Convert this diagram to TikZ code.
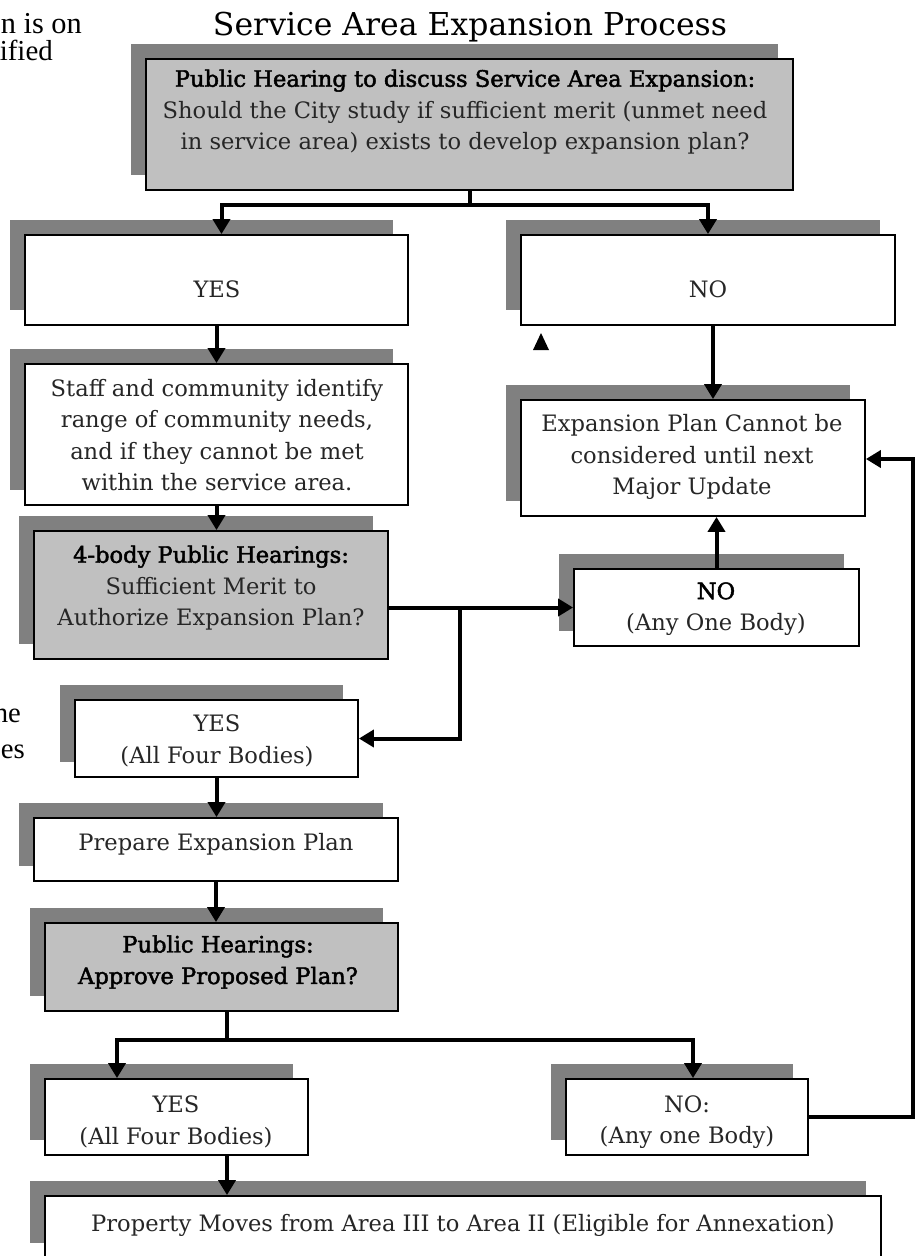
\documentclass[tikz,border=0pt]{standalone}
\usepackage{graphicx}
\usepackage{fontspec}
\setmainfont{DejaVu Serif}
\newfontfamily\fragfont{Liberation Serif}
\newfontfamily\boldface[FakeBold=2]{DejaVu Serif}
\usetikzlibrary{arrows.meta,shadows}
\definecolor{boxgray}{HTML}{C0C0C0}
\definecolor{shgray}{HTML}{808080}
\tikzset{
  box/.style={draw=black, line width=1.8pt, inner sep=0pt, rectangle,
    drop shadow={shadow xshift=-15pt, shadow yshift=15pt, opacity=1, fill=shgray}},
  wbox/.style={box, fill=white},
  gbox/.style={box, fill=boxgray},
  txt/.style={align=center, inner sep=0pt, text=black!85, font=\fontsize{22.6}{31.5}\selectfont},
  frag/.style={inner sep=0pt, anchor=base east, font=\fragfont\fontsize{29}{32}\selectfont},
  conn/.style={line width=4pt, draw=black},
  arr/.style={conn, -{Triangle[length=15pt,width=17pt]}}
}
\begin{document}
\begin{tikzpicture}[x=1pt,y=-1pt]
\useasboundingbox (0,0) rectangle (922,1256);
\clip (0,0) rectangle (922,1256);
\fill[white] (0,0) rectangle (922,1256);
% fragments of cut-off text
\node[frag] (f1) at (82,33) {\resizebox{81pt}{!}{n is on}};
\node[frag] (f2) at (53,60) {\resizebox{53pt}{!}{ified}};
\node[frag] (f3) at (21,722) {\resizebox{27pt}{!}{he}};
\node[frag] (f4) at (25,758) {\resizebox{24pt}{!}{es}};
% title
\node[inner sep=0pt, anchor=base, font=\fontsize{31.5}{34}\selectfont] (title) at (470,35) {Service Area Expansion Process};
% boxes
\node[gbox, minimum width=647, minimum height=131] (top) at (469.5,124.5) {};
\node[wbox, minimum width=383, minimum height=90] (yes1) at (216.5,280) {};
\node[wbox, minimum width=374, minimum height=90] (no1) at (708,280) {};
\node[wbox, minimum width=383, minimum height=141] (staff) at (216.5,434.5) {};
\node[wbox, minimum width=344, minimum height=116] (exp) at (693,458) {};
\node[gbox, minimum width=354, minimum height=128] (four) at (211,595) {};
\node[wbox, minimum width=285, minimum height=77] (noany) at (716.5,607.5) {};
\node[wbox, minimum width=283, minimum height=77] (yes2) at (216.5,738.5) {};
\node[wbox, minimum width=364, minimum height=63] (prep) at (216,849.5) {};
\node[gbox, minimum width=353, minimum height=88] (appr) at (221.5,967) {};
\node[wbox, minimum width=263, minimum height=76] (yes3) at (176.5,1117) {};
\node[wbox, minimum width=242, minimum height=76] (no3) at (687,1117) {};
\node[wbox, minimum width=836, minimum height=62] (final) at (463,1227) {};
% texts
\node[txt] (topT) at (465,112) {{\boldface\color{black}Public Hearing to discuss Service Area Expansion:}\\Should the City study if sufficient merit (unmet need\\in service area) exists to develop expansion plan?};
\node[txt] (yes1T) at (217,289) {YES};
\node[txt] (no1T) at (708,289) {NO};
\node[txt] (staffT) at (217,435) {Staff and community identify\\range of community needs,\\and if they cannot be met\\within the service area.};
\node[txt] (expT) at (692,457) {Expansion Plan Cannot be\\considered until next\\Major Update};
\node[txt] (fourT) at (211,588) {{\boldface\color{black}4-body Public Hearings:}\\Sufficient Merit to\\Authorize Expansion Plan?};
\node[txt] (noanyT) at (716,609) {{\boldface\color{black}NO}\\(Any One Body)};
\node[txt] (yes2T) at (217,741) {YES\\(All Four Bodies)};
\node[txt] (prepT) at (216,844) {Prepare Expansion Plan};
\node[txt, text=black] (apprT) at (218,962) {{\boldface Public Hearings:}\\{\boldface Approve Proposed Plan?}};
\node[txt] (yes3T) at (176,1122) {YES\\(All Four Bodies)};
\node[txt] (no3T) at (687,1122) {NO:\\(Any one Body)};
\node[txt] (finalT) at (463,1225) {Property Moves from Area III to Area II (Eligible for Annexation)};
% stray arrowhead
\fill[black] (533,350) -- (549,350) -- (541,333) -- cycle;
% junction coordinates
\coordinate (cNO) at (713,0);
\coordinate (br) at (460,608);
\coordinate (j2) at (227,1040);
\coordinate (rt) at (913,459);
% connectors
\draw[arr] (top.south) -- ++(0,14) coordinate (j1) -| ([xshift=5pt]yes1.north);
\draw[arr] (j1) -| (no1.north);
\draw[arr] (yes1.south) -- (yes1.south |- staff.north);
\draw[arr] (no1.south -| cNO) -- (exp.north -| cNO);
\draw[arr] (staff.south) -- (staff.south |- four.north);
\draw[arr] (four.east |- noany.west) -- (noany.west);
\draw[arr] (br) |- (yes2.east);
\draw[arr] (noany.north) -- (noany.north |- exp.south);
\draw[arr] (yes2.south) -- (yes2.south |- prep.north);
\draw[arr] (prep.south) -- (prep.south |- appr.north);
\draw[conn] (appr.south -| j2) -- (j2);
\draw[arr] (j2) -| ([xshift=-59.5pt]yes3.north);
\draw[arr] (j2) -| ([xshift=6pt]no3.north);
\draw[arr] (yes3.south -| j2) -- (final.north -| j2);
\draw[arr] (no3.east) -| (rt) -- (exp.east |- rt);
\end{tikzpicture}
\end{document}
